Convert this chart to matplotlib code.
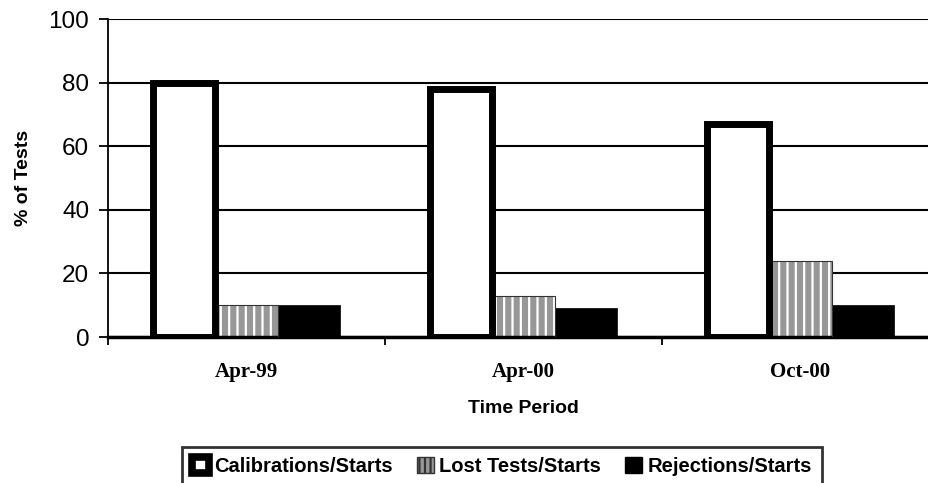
import matplotlib
matplotlib.use('Agg')
import matplotlib.pyplot as plt
from matplotlib.patches import Patch
import numpy as np

# data
periods = ['Apr-99', 'Apr-00', 'Oct-00']
calibrations = [80, 78, 67]
lost_tests = [10, 13, 24]
rejections = [10, 9, 10]

plt.rcParams['hatch.linewidth'] = 1.6

fig = plt.figure(figsize=(9.29, 4.83), dpi=100)
ax = fig.add_axes([108 / 929, 1 - 337 / 483, 831 / 929, 318 / 483])

x = np.arange(len(periods))
w = 0.224

# grid lines behind the bars
ax.set_axisbelow(True)
ax.yaxis.grid(True, color='black', linewidth=1.5)

# lost tests: grey with white vertical stripes, then a thin dark outline
ax.bar(x, lost_tests, w, color='#979797', edgecolor='white', hatch='||',
       linewidth=0, zorder=2)
ax.bar(x, lost_tests, w, fill=False, edgecolor='#333333', linewidth=0.8, zorder=3)
ax.bar(x + w, rejections, w, color='black', edgecolor='black', linewidth=0.5, zorder=2)
ax.bar(x - w, calibrations, w, color='white', edgecolor='black', linewidth=5, zorder=4)

ax.set_xlim(-0.5, 2.5)
ax.set_ylim(0, 100)
ax.set_yticks(range(0, 101, 20))
ax.tick_params(axis='y', labelsize=17.5, length=6.5, width=1.3, pad=7, direction='out')

ax.set_xticks(x)
ax.set_xticklabels(periods, fontfamily='Liberation Serif', fontweight='bold', fontsize=15)
ax.tick_params(axis='x', which='major', length=0, pad=18)
ax.set_xticks([-0.5, 0.5, 1.5, 2.5], minor=True)
ax.tick_params(axis='x', which='minor', length=6, width=1.3, direction='out')

for s in ['top', 'right']:
    ax.spines[s].set_visible(False)
ax.spines['left'].set_linewidth(1.3)
ax.spines['bottom'].set_linewidth(2.5)

ax.set_xlabel('Time Period', fontfamily='Liberation Sans', fontweight='bold', fontsize=14)
ax.xaxis.set_label_coords(0.5, -0.197)
ax.set_ylabel('% of Tests', fontfamily='Liberation Sans', fontweight='bold', fontsize=14)
ax.yaxis.set_label_coords(-0.092, 0.5)

for lab in ax.get_yticklabels():
    lab.set_fontfamily('Liberation Sans')

handles = [
    Patch(facecolor='white', edgecolor='black', linewidth=5.5),
    Patch(facecolor='#979797', edgecolor='#333333', hatch='|||', linewidth=1),
    Patch(facecolor='black', edgecolor='black'),
]
labels = ['Calibrations/Starts', 'Lost Tests/Starts', 'Rejections/Starts']
leg = fig.legend(handles, labels, loc='upper center', bbox_to_anchor=(502 / 929, 1 - 447 / 483),
                 ncol=3, frameon=True, fancybox=False, edgecolor='black',
                 prop={'family': 'Liberation Sans', 'weight': 'bold', 'size': 14.5},
                 handlelength=0.85, handleheight=0.85, handletextpad=0.25,
                 columnspacing=1.2, borderpad=0.5, borderaxespad=0)
leg.get_frame().set_linewidth(2)

fig.savefig('out.png', dpi=100)
